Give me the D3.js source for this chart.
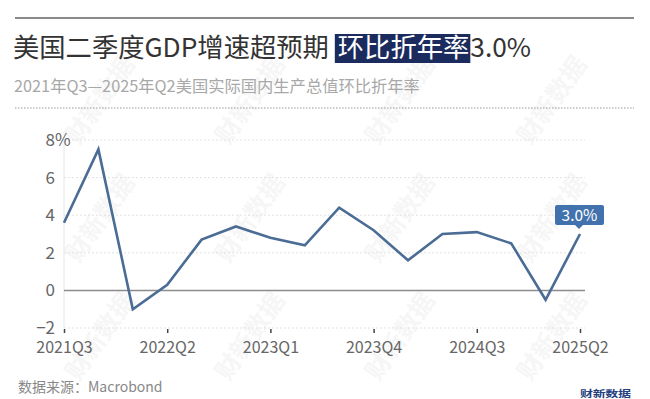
<!DOCTYPE html>
<html>
<head>
<meta charset="utf-8">
<script src="https://cdn.jsdelivr.net/npm/d3@7"></script>
<style>
  body { margin: 0; background: #fff; }
  text { font-family: "Noto Sans CJK SC", "Noto Sans", sans-serif; }
</style>
</head>
<body>
<svg id="chart"></svg>
<script>
// quarterly real GDP, q/q annualized (%)
const quarters = ['2021Q3', '2021Q4', '2022Q1', '2022Q2', '2022Q3', '2022Q4', '2023Q1', '2023Q2',
                  '2023Q3', '2023Q4', '2024Q1', '2024Q2', '2024Q3', '2024Q4', '2025Q1', '2025Q2'];
const growth = [3.6, 7.5, -1.0, 0.3, 2.7, 3.4, 2.8, 2.4, 4.4, 3.2, 1.6, 3.0, 3.1, 2.5, -0.5, 3.0];
const xTickLabels = ['2021Q3', '2022Q2', '2023Q1', '2023Q4', '2024Q3', '2025Q2'];
const yTicks = [-2, 0, 2, 4, 6, 8];

const titleParts = ['美国二季度GDP增速超预期', '环比折年率', '3.0%'];
const subtitle = '2021年Q3—2025年Q2美国实际国内生产总值环比折年率';
const source = '数据来源：Macrobond';
const watermark = '财新数据';

const W = 650, H = 399;
const plot = { left: 64, right: 580, top: 140, bottom: 328, gridEnd: 585 };

const svg = d3.select('#chart').attr('width', W).attr('height', H);

// faint diagonal watermarks
const wmSpots = [];
[100, 218, 336].forEach(wy => [100, 250, 400, 552].forEach(wx => wmSpots.push([wx, wy])));
svg.append('g').selectAll('text')
    .data(wmSpots)
    .enter()
    .append('text')
    .attr('transform', d => 'translate(' + d[0] + ',' + d[1] + ') rotate(-55)')
    .attr('text-anchor', 'middle')
    .attr('dy', '0.35em')
    .attr('font-size', 25)
    .attr('font-weight', 700)
    .attr('fill', '#000')
    .attr('opacity', 0.03)
    .text(watermark);

// header
svg.append('line')
    .attr('x1', 15).attr('x2', 634).attr('y1', 18).attr('y2', 18)
    .attr('stroke', '#8a8a8a').attr('stroke-width', 2);

const title = svg.append('g').attr('transform', 'translate(13,57)');
let cursor = 0;
titleParts.forEach((part, i) => {
    if (i === 1) cursor += 9;
    const t = title.append('text')
        .attr('x', cursor)
        .attr('font-size', 26.3)
        .attr('fill', i === 1 ? '#fff' : '#333')
        .text(part);
    const w = t.node().getComputedTextLength();
    if (i === 1) {
        title.insert('rect', 'text')
            .attr('x', cursor - 3).attr('y', -23)
            .attr('width', w + 4).attr('height', 29)
            .attr('fill', '#1c2b5e');
    }
    cursor += w + (i === 1 ? 1 : 0);
});

svg.append('text')
    .attr('x', 14).attr('y', 92)
    .attr('font-size', 16.3)
    .attr('fill', '#a8a8a8')
    .text(subtitle);

svg.append('line')
    .attr('x1', 15).attr('x2', 634).attr('y1', 108).attr('y2', 108)
    .attr('stroke', '#999').attr('stroke-width', 1.2)
    .attr('stroke-dasharray', '1.5,1.5');

// scales
const x = d3.scalePoint().domain(quarters).range([plot.left, plot.right]);
const y = d3.scaleLinear().domain([-2, 8]).range([plot.bottom, plot.top]);

// gridlines
svg.append('g').selectAll('line')
    .data(yTicks.filter(v => v !== 0))
    .enter()
    .append('line')
    .attr('x1', plot.left).attr('x2', plot.gridEnd)
    .attr('y1', d => y(d)).attr('y2', d => y(d))
    .attr('stroke', '#e2e2e2').attr('stroke-width', 1)
    .attr('stroke-dasharray', '2,2');

svg.append('line')
    .attr('x1', plot.left).attr('x2', plot.left)
    .attr('y1', y(8)).attr('y2', y(-2))
    .attr('stroke', '#e6e6e6');

svg.append('line')
    .attr('x1', plot.left).attr('x2', plot.gridEnd)
    .attr('y1', y(0)).attr('y2', y(0))
    .attr('stroke', '#8c8c8c').attr('stroke-width', 1.5);

// axes
const yAxis = d3.axisLeft(y).tickValues(yTicks).tickSize(0).tickPadding(0);
const gY = svg.append('g')
    .attr('transform', 'translate(55,0)')
    .call(yAxis);
gY.select('.domain').remove();
gY.selectAll('text')
    .attr('font-size', 17)
    .attr('fill', '#666')
    .attr('font-family', '"Noto Sans CJK SC", "Noto Sans", sans-serif');
gY.selectAll('.tick')
    .filter(d => d === 8)
    .append('text')
    .attr('x', 0).attr('dy', '0.32em')
    .attr('text-anchor', 'start')
    .attr('font-size', 17).attr('fill', '#666')
    .text('%');

const xAxis = d3.axisBottom(x).tickValues(xTickLabels).tickSize(4).tickPadding(9);
const gX = svg.append('g')
    .attr('transform', 'translate(0,' + (plot.bottom + 1) + ')')
    .call(xAxis);
gX.select('.domain').remove();
gX.selectAll('line').attr('stroke', '#444').attr('stroke-width', 1.5);
gX.selectAll('text')
    .attr('font-size', 16)
    .attr('fill', '#666')
    .attr('font-family', '"Noto Sans CJK SC", "Noto Sans", sans-serif');

// series
const line = d3.line()
    .x((d, i) => x(quarters[i]))
    .y(d => y(d));
svg.append('path')
    .datum(growth)
    .attr('d', line)
    .attr('fill', 'none')
    .attr('stroke', '#4a6c95')
    .attr('stroke-width', 2.6)
    .attr('stroke-linejoin', 'miter');

// last value callout
const lastQ = quarters[quarters.length - 1];
const lastV = growth[growth.length - 1];
const cx = x(lastQ) - 1, cy = y(lastV) - 8;
const callout = svg.append('g').attr('transform', 'translate(' + cx + ',' + cy + ')');
callout.append('rect')
    .attr('x', -24).attr('y', -21).attr('width', 49).attr('height', 20)
    .attr('rx', 2)
    .attr('fill', '#4272ad');
callout.append('path')
    .attr('d', 'M-4.5,-1.5 L0,3 L4.5,-1.5 Z')
    .attr('fill', '#4272ad');
callout.append('text')
    .attr('x', 0.5).attr('y', -5.5)
    .attr('text-anchor', 'middle')
    .attr('font-size', 15.5)
    .attr('fill', '#fff')
    .text(lastV.toFixed(1) + '%');

// footer
svg.append('text')
    .attr('x', 18).attr('y', 392)
    .attr('font-size', 14)
    .attr('fill', '#888')
    .text(source);

svg.append('text')
    .attr('transform', 'translate(580,397) scale(1,0.7)')
    .attr('font-size', 13)
    .attr('font-weight', 700)
    .attr('textLength', 51)
    .attr('fill', '#24407e')
    .text(watermark);
</script>
</body>
</html>
